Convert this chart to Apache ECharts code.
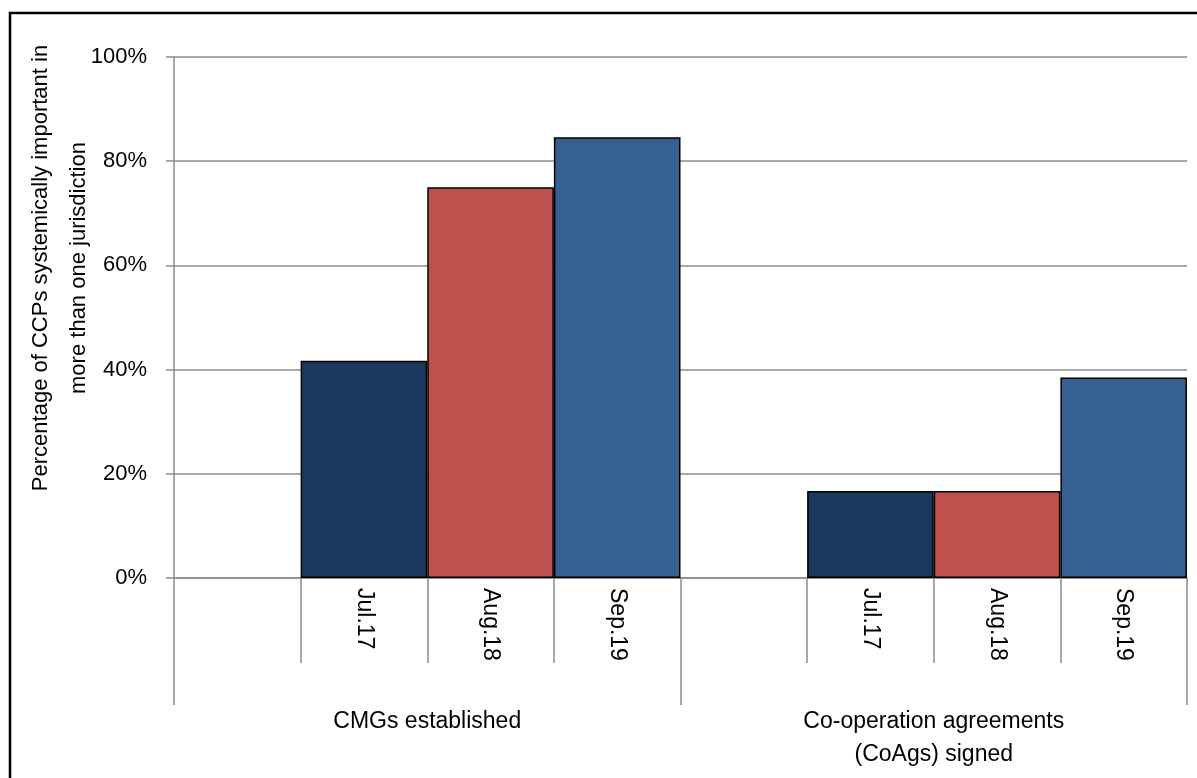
<!DOCTYPE html>
<html>
<head>
<meta charset="utf-8">
<script src="https://cdn.jsdelivr.net/npm/echarts@6/dist/echarts.min.js"></script>
<style>
html,body{margin:0;padding:0;background:#fff;}
#chart{width:1197px;height:778px;}
</style>
</head>
<body>
<div id="chart"></div>
<script>
// Data
var categories = ['', 'Jul.17', 'Aug.18', 'Sep.19', '', 'Jul.17', 'Aug.18', 'Sep.19'];
var groups = ['CMGs established', 'Co-operation agreements\n(CoAgs) signed'];
var values = [null, 41.7, 75.0, 84.6, null, 16.7, 16.7, 38.5];
var barColors = [null, '#1A375E', '#C0504D', '#366092', null, '#1A375E', '#C0504D', '#366092'];
var yTicks = [0, 20, 40, 60, 80, 100];
var yTitle = 'Percentage of CCPs systemically important in\nmore than one jurisdiction';

var FONT = 'Liberation Sans';
var GRID = '#8C8C8C';

var chart = echarts.init(document.getElementById('chart'));
var seriesData = values.map(function (v, i) {
  return { value: v, itemStyle: { color: barColors[i] || '#000' } };
});

chart.setOption({
  animation: false,
  backgroundColor: '#fff',
  textStyle: { fontFamily: FONT },
  grid: { left: 174, right: 10, top: 57, bottom: 200, containLabel: false },
  xAxis: [
    {
      type: 'category',
      data: categories,
      position: 'bottom',
      offset: 0,
      axisLine: { show: true, lineStyle: { color: GRID, width: 1.5 } },
      axisTick: { show: true, interval: 0, length: 85, lineStyle: { color: GRID, width: 1.5 } },
      axisLabel: { interval: 0, rotate: -90, margin: 10, fontSize: 23, color: '#000', fontFamily: FONT },
      splitLine: { show: false }
    },
    {
      type: 'category',
      data: groups,
      position: 'bottom',
      offset: 0,
      axisLine: { show: false },
      axisTick: { show: true, interval: 0, length: 127, lineStyle: { color: GRID, width: 1.5 } },
      axisLabel: { interval: 0, margin: 127, fontSize: 23, lineHeight: 33, color: '#000', fontFamily: FONT },
      splitLine: { show: false }
    }
  ],
  yAxis: {
    type: 'value',
    min: 0,
    max: 100,
    interval: 20,
    axisLine: { show: true, lineStyle: { color: GRID, width: 1.5 } },
    axisTick: { show: true, length: 8, lineStyle: { color: GRID, width: 1.5 } },
    axisLabel: { margin: 27, fontSize: 22, color: '#000', fontFamily: FONT,
      formatter: function (v) { return yTicks.indexOf(v) >= 0 ? v + '%' : ''; } },
    splitLine: { show: true, lineStyle: { color: GRID, width: 1.5 } }
  },
  series: [{
    type: 'bar',
    xAxisIndex: 0,
    data: seriesData,
    barWidth: '100%',
    barGap: '0%',
    itemStyle: { borderColor: '#000', borderWidth: 1.5 }
  }],
  graphic: [
    {
      type: 'rect',
      shape: { x: 10, y: 13, width: 1250, height: 850 },
      style: { fill: 'none', stroke: '#000', lineWidth: 2.5 },
      silent: true
    },
    {
      type: 'text',
      x: 60,
      y: 268,
      rotation: Math.PI / 2,
      style: {
        text: yTitle,
        font: '22px "' + FONT + '"',
        fill: '#000',
        align: 'center',
        verticalAlign: 'middle',
        lineHeight: 38
      }
    }
  ]
});
</script>
</body>
</html>
